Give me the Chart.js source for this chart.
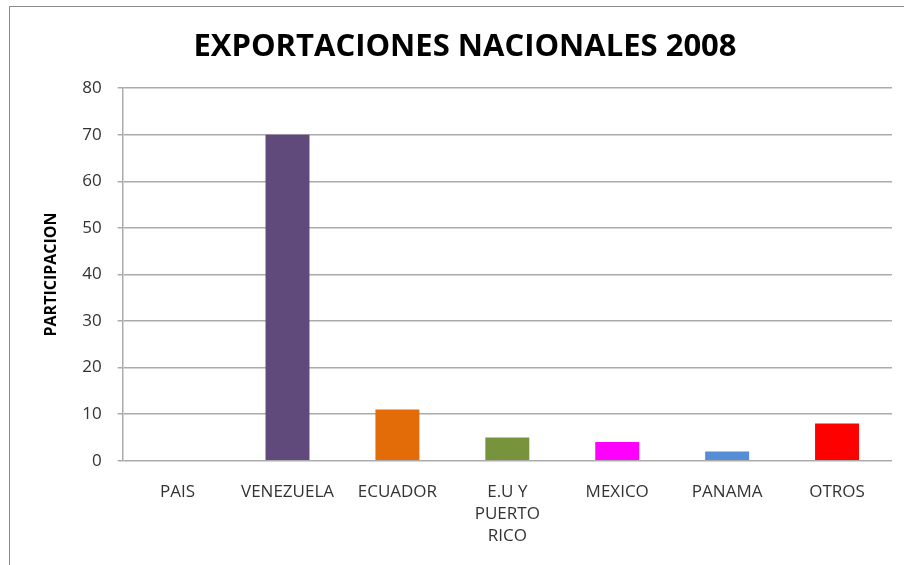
<!DOCTYPE html>
<html>
<head>
<meta charset="utf-8">
<script src="https://cdn.jsdelivr.net/npm/chart.js@4.4.0/dist/chart.umd.min.js"></script>
<style>
  html, body { margin: 0; padding: 0; background: #fff; }
  #wrap { position: relative; width: 904px; height: 565px; }
  #frame { position: absolute; left: 9px; top: 6px; width: 900px; height: 570px;
           border-left: 1px solid #8c8c8c; border-top: 1px solid #8c8c8c; }
  #chart { position: absolute; left: 0; top: 0; }
</style>
</head>
<body>
<div id="wrap">
  <div id="frame"></div>
  <canvas id="chart" width="904" height="565"></canvas>
</div>
<script>
var paises = ['PAIS', 'VENEZUELA', 'ECUADOR', ['E.U Y', 'PUERTO', 'RICO'], 'MEXICO', 'PANAMA', 'OTROS'];
var participacion = [0, 70, 11, 5, 4, 2, 8];
var colores = ['#4f81bd', '#604a7b', '#e36c09', '#77933c', '#ff00ff', '#558ed5', '#ff0000'];

var ctx = document.getElementById('chart').getContext('2d');
var chart = new Chart(ctx, {
    type: 'bar',
    data: {
        labels: paises,
        datasets: [{
            label: 'PARTICIPACION',
            data: participacion,
            backgroundColor: colores,
            barPercentage: 0.4,
            categoryPercentage: 1
        }]
    },
    options: {
        responsive: false,
        animation: false,
        layout: { padding: { left: 38, right: 12, top: 10, bottom: 6 } },
        plugins: {
            legend: { display: false },
            tooltip: { enabled: false },
            title: {
                display: true,
                text: 'EXPORTACIONES NACIONALES 2008',
                color: '#000',
                font: { family: 'Open Sans', size: 31, weight: 'bold' },
                padding: { top: 19, bottom: 22 }
            }
        },
        scales: {
            x: {
                grid: { display: false },
                border: { display: false },
                ticks: {
                    color: '#333',
                    font: { family: 'Open Sans', size: 17, lineHeight: 1.3 },
                    padding: 12,
                    maxRotation: 0,
                    autoSkip: false
                }
            },
            y: {
                min: 0,
                max: 80,
                ticks: {
                    stepSize: 10,
                    color: '#333',
                    font: { family: 'Open Sans', size: 17 },
                    padding: 16
                },
                grid: { color: '#ababab', lineWidth: 1.5, tickLength: 5 },
                border: { color: '#ababab', width: 1.5 },
                title: {
                    display: true,
                    text: 'PARTICIPACION',
                    color: '#000',
                    font: { family: 'Open Sans', size: 16, weight: 'bold' },
                    padding: { bottom: 5 }
                }
            }
        }
    }
});
</script>
</body>
</html>
